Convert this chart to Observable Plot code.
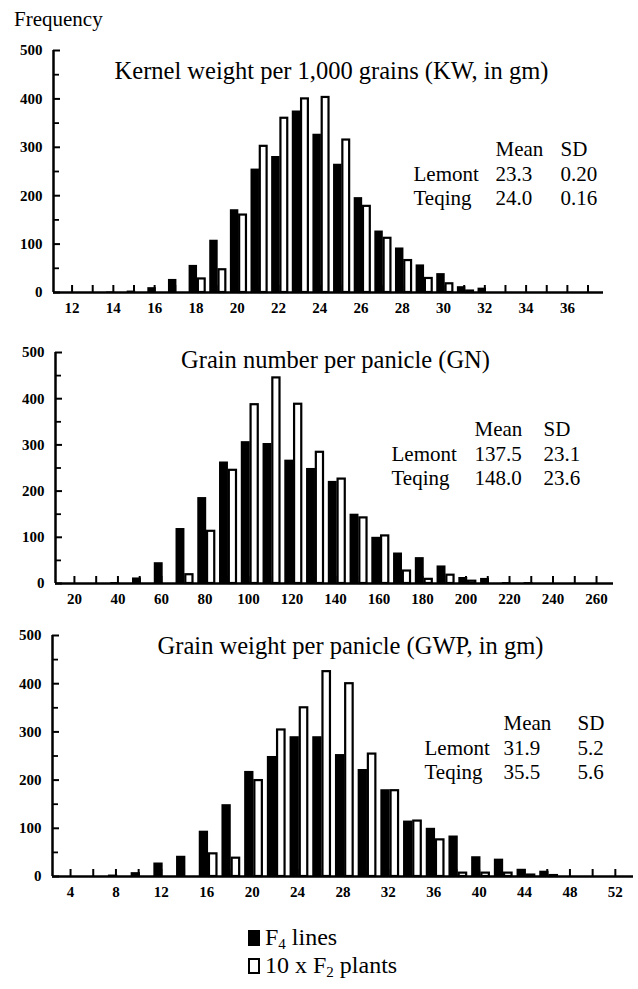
<!DOCTYPE html>
<html><head><meta charset="utf-8">
<script src="https://cdn.jsdelivr.net/npm/d3@7"></script>
<script src="https://cdn.jsdelivr.net/npm/@observablehq/plot@0.6"></script>
<style>
body{margin:0;background:#fff;}
#wrap{position:relative;width:638px;height:989px;font-family:"Liberation Serif","Times New Roman",serif;color:#000;background:#fff;overflow:hidden;}
.panel{position:absolute;left:0;background:transparent !important;}
.panel text{font-family:"Liberation Serif","Times New Roman",serif !important;}
.txt{position:absolute;line-height:1;white-space:nowrap;}
.sq{position:absolute;box-sizing:border-box;}
</style></head><body><div id="wrap"></div>
<script>
// ---------- data ----------
const yTickValues = [0, 100, 200, 300, 400, 500];
const yMinorValues = [50, 150, 250, 350, 450];

// Panel 1: kernel weight per 1,000 grains
const kwBins      = [12,13,14,15,16,17,18,19,20,21,22,23,24,25,26,27,28,29,30,31,32,33,34,35,36,37];
const kwF4Lines   = [0,0,1,3,10,27,56,108,171,255,281,375,327,265,196,127,92,57,39,12,9,0,0,0,0,0];
const kwF2Plants  = [0,0,0,0,0,0,28,47,160,302,360,400,403,315,178,112,66,29,18,3,0,0,0,0,0,0];
const kwTickLabels = [12,14,16,18,20,22,24,26,28,30,32,34,36];
const kwTitle = "Kernel weight per 1,000 grains (KW, in gm)";
const kwStats = [["Lemont","23.3","0.20"],["Teqing","24.0","0.16"]];

// Panel 2: grain number per panicle
const gnBins      = [20,30,40,50,60,70,80,90,100,110,120,130,140,150,160,170,180,190,200,210,220,230,240,250,260];
const gnF4Lines   = [0,0,2,12,45,119,186,263,307,303,267,249,221,150,100,66,56,38,13,11,2,2,0,0,0];
const gnF2Plants  = [0,0,0,0,0,19,113,245,387,445,388,284,226,142,103,27,9,18,5,0,0,0,0,0,0];
const gnTickLabels = [20,40,60,80,100,120,140,160,180,200,220,240,260];
const gnTitle = "Grain number per panicle (GN)";
const gnStats = [["Lemont","137.5","23.1"],["Teqing","148.0","23.6"]];

// Panel 3: grain weight per panicle
const gwpBins     = [4,6,8,10,12,14,16,18,20,22,24,26,28,30,32,34,36,38,40,42,44,46,48,50,52];
const gwpF4Lines  = [0,0,3,8,28,42,94,149,218,249,290,290,253,222,180,115,100,84,41,36,15,11,0,0,0];
const gwpF2Plants = [0,0,0,0,0,0,47,38,199,304,350,425,400,254,178,115,76,7,7,7,3,2,0,0,0];
const gwpTickLabels = [4,8,12,16,20,24,28,32,36,40,44,48,52];
const gwpTitle = "Grain weight per panicle (GWP, in gm)";
const gwpStats = [["Lemont","31.9","5.2"],["Teqing","35.5","5.6"]];

const statHeader = ["Mean", "SD"];
const legendLabels = ["F4 lines", "10 x F2 plants"];

// ---------- drawing ----------
const FONT = "'Liberation Serif', 'Times New Roman', serif";

function panel(cfg) {
  const {bins, f4, f2, step, xDomain, xTicks, xLabels, ml, mr, plotH, mb,
         title, titleDx, titleDy, stats, colDx, statsDy} = cfg;
  const W = 638, mt = 50;
  const plotW = W - ml - mr;
  const rows = bins.map((b, i) => ({bin: b, f4: f4[i], f2: f2[i]}));
  const col0 = ["", ...stats.map(r => r[0])].join("\n");
  const col1 = [statHeader[0], ...stats.map(r => r[1])].join("\n");
  const col2 = [statHeader[1], ...stats.map(r => r[2])].join("\n");
  return Plot.plot({
    width: W, height: mt + plotH + mb,
    marginLeft: ml, marginRight: mr, marginTop: mt, marginBottom: mb,
    x: {domain: xDomain},
    y: {domain: [0, 500]},
    style: {fontFamily: FONT, background: "transparent", color: "black", overflow: "visible"},
    marks: [
      Plot.tickY(yTickValues, {y: d => d, insetRight: plotW - 7, strokeWidth: 2}),
      Plot.tickY(yMinorValues, {y: d => d, insetRight: plotW - 6, strokeWidth: 1.8}),
      Plot.tickX(xTicks, {x: d => d, insetTop: plotH - 7, strokeWidth: 2}),
      Plot.rect(rows.filter(d => d.f4 > 0), {
        x1: d => d.bin - 0.33 * step, x2: d => d.bin + 0.08 * step,
        y1: () => 0, y2: d => d.f4, fill: "black"}),
      Plot.rect(rows.filter(d => d.f2 > 0), {
        x1: d => d.bin + 0.12 * step, x2: d => d.bin + 0.45 * step,
        y1: () => 0, y2: d => d.f2, fill: "white", stroke: "black", strokeWidth: 2.2}),
      Plot.ruleY([0], {strokeWidth: 2.5}),
      Plot.ruleX([xDomain[0]], {strokeWidth: 2.5}),
      Plot.axisY(yTickValues, {anchor: "left", tickSize: 0, tickPadding: 11, label: null,
        fontSize: 15, fontWeight: "bold", fontFamily: FONT}),
      Plot.axisX(xLabels, {anchor: "bottom", tickSize: 0, tickPadding: 10, label: null,
        tickFormat: d => String(d), fontSize: 15, fontWeight: "bold", fontFamily: FONT}),
      Plot.text([title], {text: d => d, frameAnchor: "top", lineAnchor: "top",
        dx: titleDx, dy: titleDy, fontSize: 24.5, fontFamily: FONT}),
      Plot.text([col0], {text: d => d, frameAnchor: "top-left", textAnchor: "start", lineAnchor: "top",
        dx: colDx[0], dy: statsDy, fontSize: 21, lineHeight: 1.17, fontFamily: FONT}),
      Plot.text([col1], {text: d => d, frameAnchor: "top-left", textAnchor: "start", lineAnchor: "top",
        dx: colDx[1], dy: statsDy, fontSize: 21, lineHeight: 1.17, fontFamily: FONT}),
      Plot.text([col2], {text: d => d, frameAnchor: "top-left", textAnchor: "start", lineAnchor: "top",
        dx: colDx[2], dy: statsDy, fontSize: 21, lineHeight: 1.17, fontFamily: FONT})
    ]
  });
}

const wrap = document.getElementById("wrap");
function place(node, top) {
  node.classList.add("panel");
  node.style.top = top + "px";
  wrap.appendChild(node);
}

place(panel({bins: kwBins, f4: kwF4Lines, f2: kwF2Plants, step: 1,
  xDomain: [11.1, 37.75], xTicks: kwBins, xLabels: kwTickLabels,
  ml: 53, mr: 35, plotH: 242, mb: 28,
  title: kwTitle, titleDx: 3, titleDy: 11, stats: kwStats,
  colDx: [360, 442, 507], statsDy: 88}), 0);

place(panel({bins: gnBins, f4: gnF4Lines, f2: gnF2Plants, step: 10,
  xDomain: [11.3, 267.8], xTicks: gnBins, xLabels: gnTickLabels,
  ml: 55, mr: 25, plotH: 231, mb: 28,
  title: gnTitle, titleDx: 1, titleDy: -2, stats: gnStats,
  colDx: [336, 419, 488], statsDy: 66}), 302);

place(panel({bins: gwpBins, f4: gwpF4Lines, f2: gwpF2Plants, step: 2,
  xDomain: [2.41, 53.6], xTicks: gwpBins, xLabels: gwpTickLabels,
  ml: 52, mr: 5, plotH: 241, mb: 28,
  title: gwpTitle, titleDx: 7.5, titleDy: 1, stats: gwpStats,
  colDx: [372, 451, 525], statsDy: 77}), 585);

// y label
const freq = document.createElement("div");
freq.className = "txt";
freq.style.cssText += "left:14px;top:9px;font-size:21px;";
freq.textContent = "Frequency";
wrap.appendChild(freq);

// legend
function legendRow(top, filled, label) {
  const sq = document.createElement("div");
  sq.className = "sq";
  sq.style.cssText += `left:248px;top:${top + 5}px;width:12px;height:16px;` +
    (filled ? "background:#000;" : "background:#fff;border:2px solid #000;");
  wrap.appendChild(sq);
  const t = document.createElement("div");
  t.className = "txt";
  t.style.cssText += `left:265px;top:${top}px;font-size:24px;`;
  const m = label.match(/^(.*F)(\d)(.*)$/);
  t.innerHTML = `${m[1]}<sub style="font-size:15px;vertical-align:-4px">${m[2]}</sub>${m[3]}`;
  wrap.appendChild(t);
}
legendRow(925, true, legendLabels[0]);
legendRow(953, false, legendLabels[1]);
</script>
</body></html>
